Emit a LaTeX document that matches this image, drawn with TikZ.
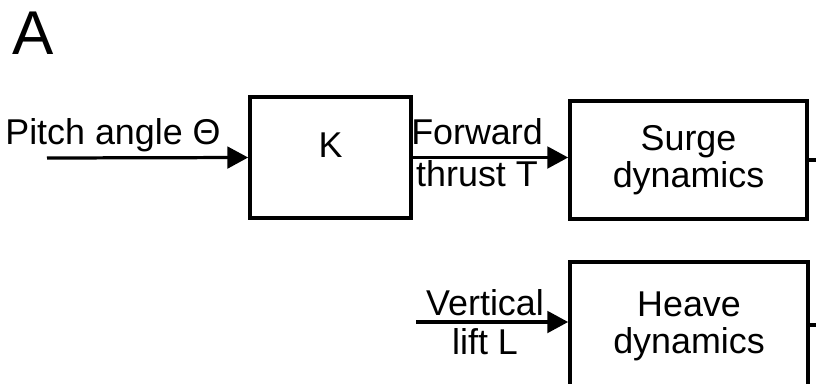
\documentclass[tikz,border=0pt]{standalone}
\usepackage{fontspec}
\setmainfont{Liberation Sans}
\usetikzlibrary{arrows.meta}

\tikzset{
  block/.style={draw,line width=2.6pt,align=center,inner sep=0,font=\fontsize{25.5}{26.2}\selectfont},
  sig/.style={line width=2.3pt,-{Triangle[length=0.52cm,width=0.54cm]}},
  lbl/.style={font=\fontsize{25.5}{29}\selectfont,inner sep=0,anchor=base},
}

\begin{document}
\begin{tikzpicture}[x=0.025cm,y=-0.025cm]
\useasboundingbox (0,0) rectangle (816,383);
\node[lbl,font=\fontsize{44}{50}\selectfont] (panel) at (33,54) {A};

\node[block,minimum width=4.025cm,minimum height=3.025cm,text height=0.3cm,text depth=0.3cm] (K) at (330.5,157.5) {K};
\node[block,minimum width=5.925cm,minimum height=2.95cm] (Surge) at (688.5,160) {Surge\\dynamics};
\node[block,minimum width=5.95cm,minimum height=3.2cm] (Heave) at (689,326) {Heave\\dynamics};

\coordinate (pitchin) at (47,158);
\coordinate (liftin) at (416,322);
\coordinate (surgeout) at (840,160);
\coordinate (heaveout) at (840,325);

\node[lbl] (pitch) at (113,144) {Pitch angle Θ};
\node[lbl] (fwd) at (477,144) {Forward};
\node[lbl] (thrust) at (477,186) {thrust T};
\node[lbl] (vert) at (485,315) {Vertical};
\node[lbl] (lift) at (485,354) {lift L};

\draw[sig] (pitchin) -- (K.west);
\draw[sig] (K.east) -- (K.east -| Surge.west);
\draw[sig] (liftin) -- (liftin -| Heave.west);
\draw[line width=2.3pt] (Surge.east) -- (surgeout);
\draw[line width=2.3pt] (heaveout -| Heave.east) -- (heaveout);
\end{tikzpicture}
\end{document}
